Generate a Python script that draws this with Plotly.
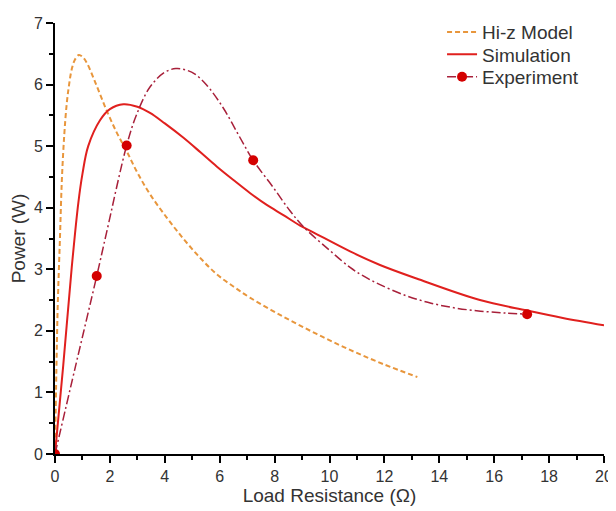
import plotly.graph_objects as go

# Hi-z model curve
hiz_x = [0, 0.05, 0.1, 0.18, 0.25, 0.34, 0.43, 0.52, 0.61, 0.72, 0.87, 1.0, 1.15, 1.5, 1.88, 2.25, 2.61, 3.0, 3.46, 4.07, 4.67, 5.28, 5.89, 6.5, 7.1, 8.32, 9.53, 10.75, 11.96, 13.2]
hiz_y = [0, 1.35, 2.42, 3.5, 4.45, 5.2, 5.7, 6.02, 6.25, 6.4, 6.48, 6.45, 6.36, 6.0, 5.58, 5.22, 4.92, 4.57, 4.22, 3.84, 3.5, 3.19, 2.92, 2.72, 2.54, 2.23, 1.95, 1.69, 1.46, 1.25]

# Simulation curve
sim_x = [0, 0.3, 0.61, 0.85, 1.0, 1.21, 1.64, 2.0, 2.49, 3.0, 3.46, 4.0, 4.67, 5.3, 5.89, 6.5, 7.1, 7.7, 8.32, 8.93, 9.41, 10.75, 11.84, 13.17, 15.48, 17.2, 18.5, 20.0]
sim_y = [0, 1.44, 3.03, 4.08, 4.55, 5.0, 5.42, 5.6, 5.68, 5.64, 5.54, 5.37, 5.14, 4.9, 4.67, 4.45, 4.24, 4.05, 3.88, 3.71, 3.6, 3.29, 3.07, 2.85, 2.5, 2.33, 2.21, 2.09]

# Experiment fitted curve
expc_x = [0, 0.75, 1.52, 1.88, 2.61, 2.97, 3.46, 4.0, 4.4, 4.75, 5.1, 5.53, 6.13, 6.7, 7.22, 7.95, 8.56, 9.05, 10.0, 10.75, 11.2, 11.84, 12.8, 13.7, 14.6, 15.5, 16.4, 17.2]
expc_y = [0, 1.43, 2.89, 3.6, 5.01, 5.51, 5.96, 6.2, 6.26, 6.24, 6.17, 5.99, 5.62, 5.17, 4.77, 4.33, 3.95, 3.69, 3.31, 3.03, 2.9, 2.75, 2.57, 2.45, 2.37, 2.32, 2.29, 2.27]

# Experiment measured points
exp_x = [0, 1.52, 2.61, 7.22, 17.2]
exp_y = [0, 2.89, 5.01, 4.77, 2.27]

x_ticks = [0, 2, 4, 6, 8, 10, 12, 14, 16, 18, 20]
y_ticks = [0, 1, 2, 3, 4, 5, 6, 7]

HIZ_C = "#E8963C"
SIM_C = "#E0201E"
EXPL_C = "#A8203A"
EXPM_C = "#D40000"
HIZ_DASH = "5px,3px"
EXP_DASH = "9px,3px,2px,3px"

fig = go.Figure()
fig.add_trace(go.Scatter(x=hiz_x, y=hiz_y, mode="lines", name="Hi-z Model", legend="legend",
                         line=dict(color=HIZ_C, width=2, dash=HIZ_DASH, shape="spline", smoothing=1.0)))
fig.add_trace(go.Scatter(x=sim_x, y=sim_y, mode="lines", name="Simulation", legend="legend2",
                         line=dict(color=SIM_C, width=2, shape="spline", smoothing=1.0)))
fig.add_trace(go.Scatter(x=expc_x, y=expc_y, mode="lines", showlegend=False,
                         line=dict(color=EXPL_C, width=1.5, dash=EXP_DASH, shape="spline", smoothing=1.0)))
fig.add_trace(go.Scatter(x=exp_x, y=exp_y, mode="markers", showlegend=False,
                         marker=dict(color=EXPM_C, size=10)))
# legend entry for experiment (line + marker)
fig.add_trace(go.Scatter(x=[None], y=[None], mode="lines+markers", name="Experiment", legend="legend3",
                         line=dict(color=EXPL_C, width=1.5, dash=EXP_DASH),
                         marker=dict(color=EXPM_C, size=10)))

FONT = "Liberation Sans, Arial, sans-serif"
TXT = "#333333"


def axis(rng, ticks, title, minor_dtick, standoff):
    return dict(
        range=rng, tickvals=ticks, ticktext=[str(v) for v in ticks],
        title=dict(text=title, font=dict(family=FONT, size=19, color=TXT), standoff=standoff),
        showline=True, linecolor="black", linewidth=2, ticks="outside",
        ticklen=7, tickwidth=2, tickcolor="black", showgrid=False, zeroline=False,
        automargin=False,
        tickfont=dict(family=FONT, size=16, color=TXT),
        minor=dict(ticks="outside", ticklen=4, tickwidth=2, tickcolor="black",
                   tick0=0, dtick=minor_dtick),
    )


def legend_row(yc):
    return dict(x=0.705, y=yc, xanchor="left", yanchor="middle",
                font=dict(family=FONT, size=19, color=TXT), bgcolor="rgba(0,0,0,0)")


# note: the page body adds an 8px offset, margins compensate for it
fig.update_layout(
    width=616, height=511,
    margin=dict(l=47, r=20, t=5, b=65),
    plot_bgcolor="white", paper_bgcolor="white",
    font=dict(family=FONT, color=TXT),
    legend=legend_row(0.979),
    legend2=legend_row(0.927),
    legend3=legend_row(0.875),
    xaxis=axis([0, 20], x_ticks, "Load Resistance (Ω)", 1, 1),
    yaxis=axis([0, 7], y_ticks, "Power (W)", 0.5, 6),
)

fig.write_html("out.html")
